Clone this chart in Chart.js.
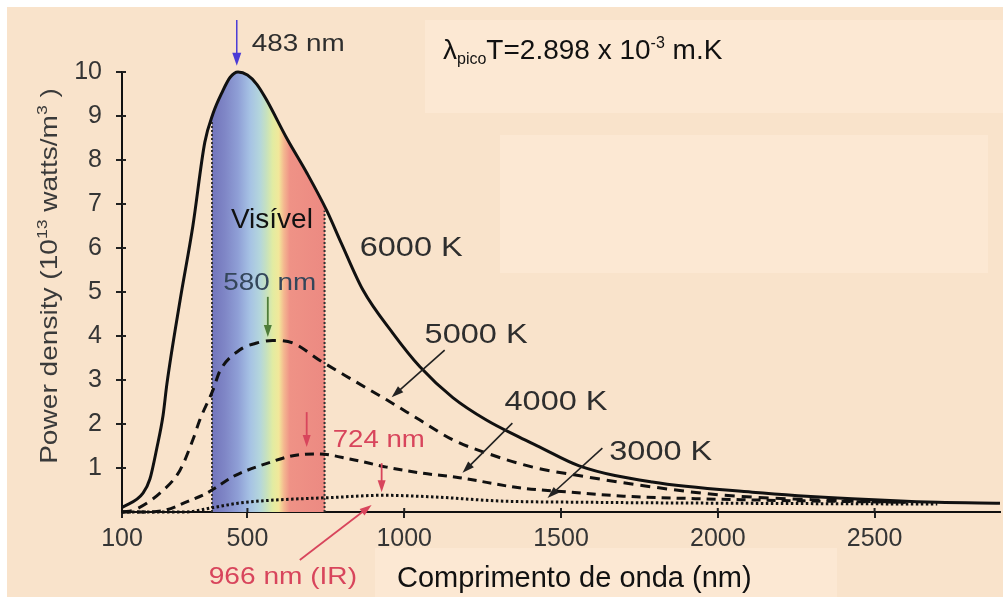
<!DOCTYPE html>
<html>
<head>
<meta charset="utf-8">
<script src="https://cdn.jsdelivr.net/npm/chart.js@4.4.1/dist/chart.umd.min.js"></script>
<style>
  html, body { margin: 0; padding: 0; background: #ffffff; }
  #wrap { width: 1003px; height: 597px; }
</style>
</head>
<body>
<div id="wrap"><canvas id="c" width="1003" height="597"></canvas></div>
<script>
// ---------- data ----------
const x6000 = [100, 167, 189, 211, 231, 243, 285, 326, 364, 390, 420, 445, 470, 500, 530, 560, 625, 690, 753, 800, 868, 964, 1050, 1155, 1262, 1367, 1431, 1558, 1791, 2110, 2428, 2700, 2900];
const y6000 = [0.1, 0.43, 0.75, 1.45, 2.2, 2.9, 4.8, 6.5, 8.4, 9.05, 9.55, 9.88, 10.0, 9.93, 9.72, 9.38, 8.5, 7.7, 6.85, 6.1, 5.05, 4.06, 3.3, 2.6, 2.09, 1.7, 1.48, 1.05, 0.68, 0.45, 0.3, 0.22, 0.2];

const x5000 = [100, 140, 221, 285, 326, 348, 390, 412, 475, 530, 580, 645, 730, 836, 944, 1050, 1155, 1262, 1410, 1580, 1791, 2005, 2300, 2600];
const y5000 = [0, 0.05, 0.43, 0.95, 1.64, 2.09, 2.77, 3.2, 3.68, 3.84, 3.9, 3.84, 3.45, 3.0, 2.55, 2.09, 1.64, 1.34, 1.02, 0.8, 0.57, 0.39, 0.28, 0.22];

const x4000 = [100, 180, 243, 306, 371, 402, 453, 476, 560, 645, 724, 830, 944, 1050, 1176, 1367, 1530, 1700, 1950, 2300, 2600];
const y4000 = [0, 0.0, 0.05, 0.23, 0.43, 0.57, 0.8, 0.88, 1.1, 1.28, 1.32, 1.2, 1.02, 0.89, 0.78, 0.55, 0.45, 0.36, 0.3, 0.25, 0.22];

const x3000 = [100, 300, 390, 470, 560, 772, 930, 1100, 1304, 1600, 2000, 2700];
const y3000 = [0, 0, 0.1, 0.2, 0.26, 0.33, 0.38, 0.34, 0.25, 0.22, 0.2, 0.18];

const visibleEdges = [387, 746];     // nm, edges of the visible band
const visibleTops  = [8.9, 6.85];    // where the dotted edges meet the 6000 K curve

const xTicks = [100, 500, 1000, 1500, 2000, 2500];
const yTicks = [1, 2, 3, 4, 5, 6, 7, 8, 9, 10];

const seriesNames = ['6000 K', '5000 K', '4000 K', '3000 K'];

// spectrum colour stops (nm, colour)
const spectrumNm     = [387, 428, 470, 508, 540, 562, 581, 600, 616, 635, 746];
const spectrumColors = ['#7275bb', '#7f86c6', '#8f9fd6', '#a6c2e4', '#b4d6dc', '#c8e2bc', '#e2eca2', '#f2e89a', '#f4b890', '#ef9286', '#ec8a82'];

// ---------- helpers ----------
const pts = (xs, ys) => xs.map((x, i) => ({ x: x, y: ys[i] }));
const FONT = '"Liberation Sans", Arial, Helvetica, sans-serif';

function spectrumFill(context) {
  const chart = context.chart;
  const area = chart.chartArea;
  if (!area) return 'rgba(0,0,0,0)';
  const xs = chart.scales.x;
  const g = chart.ctx.createLinearGradient(area.left, 0, area.right, 0);
  const w = area.right - area.left;
  const f = nm => Math.min(1, Math.max(0, (xs.getPixelForValue(nm) - area.left) / w));
  const f0 = f(visibleEdges[0]), f1 = f(visibleEdges[1]);
  g.addColorStop(0, 'rgba(0,0,0,0)');
  g.addColorStop(Math.max(0, f0 - 0.0001), 'rgba(0,0,0,0)');
  spectrumNm.forEach((nm, i) => g.addColorStop(f(nm), spectrumColors[i]));
  g.addColorStop(Math.min(1, f1 + 0.0001), 'rgba(0,0,0,0)');
  g.addColorStop(1, 'rgba(0,0,0,0)');
  return g;
}

function drawRich(ctx, segs, x, y, o) {
  ctx.save();
  ctx.translate(x, y);
  if (o.rotate) ctx.rotate(o.rotate);
  ctx.scale(o.stretch || 1, 1);
  ctx.fillStyle = o.color || '#333';
  ctx.textBaseline = 'alphabetic';
  ctx.textAlign = 'left';
  let total = 0;
  segs.forEach(s => {
    const sz = s.size || o.size;
    ctx.font = sz + 'px ' + FONT;
    total += ctx.measureText(s.t).width;
  });
  let cx = o.align === 'center' ? -total / 2 : 0;
  segs.forEach(s => {
    const sz = s.size || o.size;
    ctx.font = sz + 'px ' + FONT;
    ctx.fillText(s.t, cx, s.dy || 0);
    cx += ctx.measureText(s.t).width;
  });
  ctx.restore();
}

function arrow(ctx, x1, y1, x2, y2, color, lw, hl, hw) {
  const a = Math.atan2(y2 - y1, x2 - x1);
  ctx.save();
  ctx.strokeStyle = color; ctx.fillStyle = color; ctx.lineWidth = lw;
  ctx.beginPath();
  ctx.moveTo(x1, y1);
  ctx.lineTo(x2 - Math.cos(a) * hl * 0.8, y2 - Math.sin(a) * hl * 0.8);
  ctx.stroke();
  ctx.beginPath();
  ctx.moveTo(x2, y2);
  ctx.lineTo(x2 - Math.cos(a) * hl + Math.sin(a) * hw / 2, y2 - Math.sin(a) * hl - Math.cos(a) * hw / 2);
  ctx.lineTo(x2 - Math.cos(a) * hl - Math.sin(a) * hw / 2, y2 - Math.sin(a) * hl + Math.cos(a) * hw / 2);
  ctx.closePath();
  ctx.fill();
  ctx.restore();
}

// ---------- plugin: background, texts, arrows ----------
const decor = {
  id: 'decor',
  beforeDraw(chart) {
    const ctx = chart.ctx;
    ctx.save();
    ctx.fillStyle = '#ffffff';
    ctx.fillRect(0, 0, chart.width, chart.height);
    ctx.fillStyle = 'rgb(249,227,203)';
    ctx.fillRect(7, 7, chart.width - 7, chart.height - 7);
    ctx.fillStyle = 'rgb(252,232,211)';
    ctx.fillRect(425, 20, chart.width - 425, 93);
    ctx.fillRect(500, 135, 488, 138);
    ctx.fillRect(375, 548, 462, chart.height - 548);
    ctx.restore();
  },
  afterDraw(chart) {
    const ctx = chart.ctx;
    const X = v => chart.scales.x.getPixelForValue(v);
    const Y = v => chart.scales.y.getPixelForValue(v);
    const dark = '#2e2e2e';
    const red = '#d8455c';

    // inner halves of the crossing tick marks
    ctx.save();
    ctx.strokeStyle = '#222'; ctx.lineWidth = 2;
    ctx.beginPath();
    yTicks.forEach(v => { ctx.moveTo(X(100), Y(v)); ctx.lineTo(X(100) + 4, Y(v)); });
    xTicks.slice(1).forEach(v => { ctx.moveTo(X(v), Y(0)); ctx.lineTo(X(v), Y(0) - 4); });
    ctx.stroke();
    ctx.restore();

    // formula
    drawRich(ctx, [
      { t: 'λ' },
      { t: 'pico', size: 16, dy: 5 },
      { t: 'T=2.898 x 10' },
      { t: '-3', size: 16, dy: -11 },
      { t: ' m.K' }
    ], 443, 59, { size: 28, color: '#111', align: 'left' });

    // axis titles
    drawRich(ctx, [{ t: 'Comprimento de onda (nm)' }], 397, 587, { size: 29, color: '#111', align: 'left' });
    drawRich(ctx, [
      { t: 'Power density (10' },
      { t: '13', size: 15, dy: -10 },
      { t: ' watts/m' },
      { t: '3', size: 15, dy: -10 },
      { t: ' )' }
    ], 57, 276, { size: 24, color: '#3a3a3a', align: 'center', rotate: -Math.PI / 2, stretch: 1.17 });

    // curve labels (centre y converted to baseline)
    const lab = (t, nm, v, size, color, stretch, align) =>
      drawRich(ctx, [{ t: t }], X(nm), Y(v) + size * 0.36, { size: size, color: color, stretch: stretch, align: align });

    lab('483 nm', 514, 10.68, 24, dark, 1.16, 'left');
    lab('Visível', 578, 6.68, 28, '#111', 1, 'center');
    lab('6000 K', 858, 6.05, 28, dark, 1.16, 'left');
    lab('580 nm', 571, 5.25, 24, '#34465a', 1.16, 'center');
    lab('5000 K', 1065, 4.07, 28, dark, 1.16, 'left');
    lab('4000 K', 1320, 2.55, 28, dark, 1.16, 'left');
    lab('3000 K', 1654, 1.41, 28, dark, 1.16, 'left');
    lab('724 nm', 772, 1.68, 24, red, 1.15, 'left');
    lab('966 nm (IR)', 613, -1.45, 24, red, 1.17, 'center');

    // arrows
    arrow(ctx, X(466), Y(11.18), X(466), Y(10.14), '#4b3bd6', 1.5, 13, 9);
    arrow(ctx, X(565), Y(4.89), X(565), Y(3.98), '#4f7d3a', 1.8, 12, 8);
    arrow(ctx, X(689), Y(2.27), X(689), Y(1.48), red, 1.8, 12, 8);
    arrow(ctx, X(928), Y(1.11), X(928), Y(0.45), red, 1.8, 12, 8);
    arrow(ctx, X(667), Y(-1.09), X(896), Y(0.16), red, 1.8, 12, 8);
    arrow(ctx, X(1129), Y(3.68), X(960), Y(2.61), '#222', 1.6, 12, 8);
    arrow(ctx, X(1345), Y(2.02), X(1186), Y(0.89), '#222', 1.6, 12, 8);
    arrow(ctx, X(1632), Y(1.45), X(1457), Y(0.32), '#222', 1.6, 12, 8);
  }
};

const tickFont = { family: FONT, size: 25 };

new Chart(document.getElementById('c'), {
  type: 'scatter',
  data: {
    datasets: [
      { label: seriesNames[0], data: pts(x6000, y6000), showLine: true, borderColor: '#111', borderWidth: 3,
        pointRadius: 0, cubicInterpolationMode: 'monotone', fill: 'origin', backgroundColor: spectrumFill, clip: 8 },
      { label: seriesNames[1], data: pts(x5000, y5000), showLine: true, borderColor: '#111', borderWidth: 3,
        borderDash: [10, 7], pointRadius: 0, cubicInterpolationMode: 'monotone', clip: 8 },
      { label: seriesNames[2], data: pts(x4000, y4000), showLine: true, borderColor: '#111', borderWidth: 3,
        borderDash: [9, 6], pointRadius: 0, cubicInterpolationMode: 'monotone', clip: 8 },
      { label: seriesNames[3], data: pts(x3000, y3000), showLine: true, borderColor: '#111', borderWidth: 3,
        borderDash: [2.5, 2.5], pointRadius: 0, cubicInterpolationMode: 'monotone', clip: 8 },
      { label: 'edge1', data: [{ x: visibleEdges[0], y: 0 }, { x: visibleEdges[0], y: visibleTops[0] }], showLine: true,
        borderColor: '#333', borderWidth: 2, borderDash: [2, 2], pointRadius: 0 },
      { label: 'edge2', data: [{ x: visibleEdges[1], y: 0 }, { x: visibleEdges[1], y: visibleTops[1] }], showLine: true,
        borderColor: '#333', borderWidth: 2, borderDash: [2, 2], pointRadius: 0 }
    ]
  },
  options: {
    responsive: false,
    animation: false,
    layout: { padding: { left: 0, right: 3, top: 72, bottom: 0 } },
    plugins: {
      legend: { display: false },
      tooltip: { enabled: false },
      filler: { drawTime: 'beforeDatasetsDraw' }
    },
    scales: {
      x: {
        type: 'linear', min: 100, max: 2900,
        afterBuildTicks: axis => { axis.ticks = xTicks.map(v => ({ value: v })); },
        afterFit: s => { s.height = 85; },
        ticks: { font: tickFont, color: '#353535', padding: 6, maxRotation: 0, autoSkip: false,
                 callback: v => String(v) },
        grid: { display: true, drawOnChartArea: false, drawTicks: true, tickLength: 6, color: '#222', lineWidth: 2 },
        border: { display: true, color: '#111', width: 2 }
      },
      y: {
        type: 'linear', min: 0, max: 10,
        afterBuildTicks: axis => { axis.ticks = yTicks.map(v => ({ value: v })); },
        afterFit: s => { s.width = 122; },
        ticks: { font: tickFont, color: '#353535', padding: 14, callback: v => String(v) },
        grid: { display: true, drawOnChartArea: false, drawTicks: true, tickLength: 6, color: '#222', lineWidth: 2 },
        border: { display: true, color: '#111', width: 2 }
      }
    }
  },
  plugins: [decor]
});
</script>
</body>
</html>
